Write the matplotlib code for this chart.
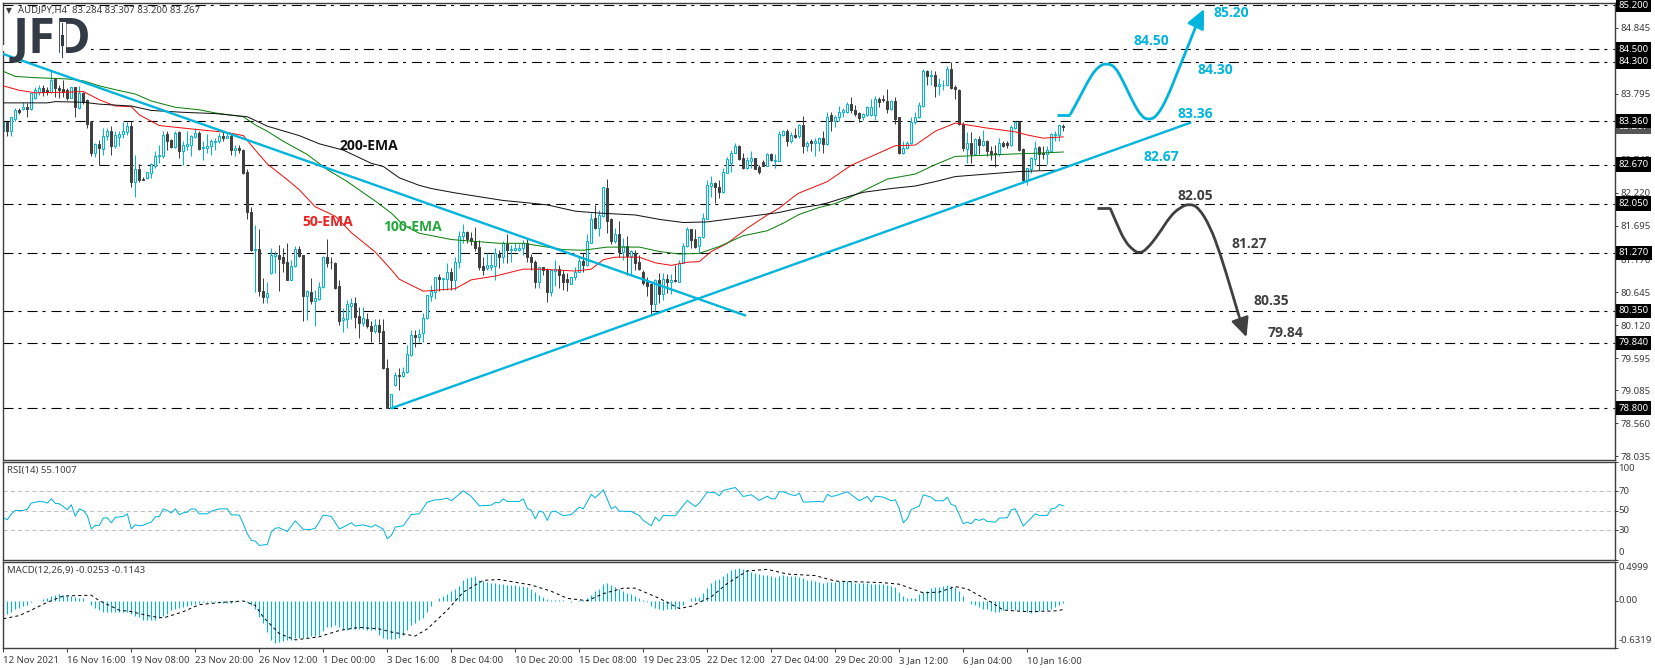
import matplotlib
matplotlib.use('Agg')
import matplotlib.pyplot as plt
from matplotlib.patches import Rectangle, PathPatch
from matplotlib.path import Path
import numpy as np

W, H = 1655, 668
plt.rcParams['font.family'] = ['Noto Sans', 'DejaVu Sans']
plt.rcParams['lines.scale_dashes'] = False

# ── candles, H4 bars ──
opens = [83.20,83.34,83.21,83.39,83.54,83.56,83.59,83.55,83.72,83.82,83.88,83.86,83.83,84.03,83.89,83.87,
 83.85,83.73,83.90,83.57,83.81,83.69,83.34,82.86,83.00,82.92,83.12,83.21,82.96,83.11,83.16,83.18,
 83.29,82.40,82.60,82.44,82.46,82.54,82.65,82.80,82.80,83.16,83.06,82.95,83.18,82.89,82.97,82.98,
 83.11,83.17,82.94,82.94,82.96,83.03,83.04,83.13,83.10,83.12,82.90,82.93,82.90,82.55,81.92,81.31,
 81.33,80.67,80.56,80.95,81.22,81.24,81.20,81.13,80.84,81.06,81.33,81.24,80.58,80.65,80.51,80.53,
 80.72,81.21,81.13,81.11,80.75,80.20,80.22,80.43,80.48,80.26,80.16,80.22,80.10,80.02,80.13,80.03,
 79.44,78.80,79.17,79.33,79.31,79.37,79.65,79.96,79.93,79.99,80.23,80.59,80.64,80.89,80.85,80.85,
 80.97,80.84,81.13,81.54,81.60,81.50,81.45,81.36,81.06,81.03,81.05,81.06,81.25,81.20,81.41,81.31,
 81.32,81.31,81.35,81.43,81.20,81.12,80.80,81.04,81.00,80.64,80.98,81.01,80.93,80.85,80.78,80.88,
 80.97,81.14,81.08,81.43,81.82,81.66,81.85,82.30,81.80,81.45,81.57,81.28,81.38,81.22,81.27,81.12,
 80.97,80.81,80.77,80.46,80.83,80.62,80.85,80.81,80.83,80.81,81.11,81.37,81.64,81.49,81.37,81.52,
 81.81,82.33,82.38,82.31,82.23,82.54,82.69,82.86,82.97,82.77,82.61,82.73,82.77,82.63,82.71,82.65,
 82.84,82.73,82.73,83.14,83.21,83.05,83.14,83.12,83.30,82.96,83.04,83.01,83.02,83.10,83.00,83.46,
 83.37,83.43,83.50,83.51,83.63,83.54,83.49,83.42,83.46,83.46,83.46,83.71,83.71,83.68,83.56,83.68,
 83.42,82.86,82.93,83.01,83.34,83.42,83.60,84.15,84.07,84.09,83.92,83.93,83.93,84.19,83.90,83.86,
 83.32,82.92,83.01,82.84,83.07,82.98,83.05,82.89,82.86,82.84,83.02,83.02,82.98,83.25,83.34,82.92,
 82.43,82.60,82.76,82.95,82.86,82.84,82.89,83.14,83.14,83.284]
highs = [83.42,83.34,83.42,83.57,83.57,83.66,83.65,83.80,83.90,83.94,83.94,83.90,84.15,84.03,83.93,84.01,
 83.88,83.91,83.90,83.92,83.83,83.71,83.36,83.02,83.06,83.25,83.25,83.28,83.20,83.20,83.35,83.36,
 83.36,82.83,82.68,82.48,82.56,82.69,82.88,82.98,83.21,83.21,83.07,83.21,83.21,83.04,83.20,83.14,
 83.25,83.21,83.04,83.16,83.07,83.09,83.17,83.20,83.18,83.15,82.98,82.98,82.91,82.60,82.00,81.71,
 81.65,80.87,80.80,81.34,81.29,81.40,81.34,81.42,81.16,81.38,81.38,81.24,80.68,80.87,80.68,80.80,
 81.22,81.49,81.21,81.13,80.83,80.39,80.52,80.55,80.56,80.41,80.41,80.31,80.18,80.22,80.22,80.22,
 79.58,79.02,79.37,79.44,79.46,79.81,80.05,80.05,80.06,80.31,80.60,80.76,80.89,80.94,80.87,81.11,
 81.03,81.21,81.61,81.73,81.61,81.60,81.68,81.48,81.21,81.27,81.25,81.34,81.32,81.45,81.57,81.40,
 81.42,81.41,81.48,81.50,81.25,81.16,81.04,81.05,81.03,81.00,81.16,81.08,81.00,80.95,80.89,81.05,
 81.21,81.26,81.56,81.90,82.03,81.95,82.31,82.44,81.82,81.66,81.77,81.50,81.54,81.32,81.32,81.24,
 80.99,80.89,80.79,80.85,80.95,80.95,80.94,80.94,81.08,81.16,81.42,81.68,81.65,81.65,81.54,81.90,
 82.43,82.49,82.40,82.43,82.61,82.79,82.90,83.01,82.98,82.86,82.79,82.88,82.77,82.67,82.74,82.85,
 82.85,82.84,83.21,83.22,83.23,83.19,83.25,83.32,83.44,83.04,83.07,83.09,83.11,83.20,83.50,83.50,
 83.46,83.60,83.57,83.66,83.75,83.62,83.51,83.49,83.60,83.71,83.76,83.75,83.77,83.87,83.69,83.74,
 83.42,83.04,83.04,83.42,83.51,83.66,84.19,84.17,84.17,84.16,84.04,84.01,84.23,84.30,83.94,83.87,
 83.34,83.18,83.18,83.09,83.12,83.22,83.06,82.96,82.98,83.09,83.05,83.05,83.30,83.36,83.36,82.93,
 82.61,82.79,83.04,82.97,82.97,82.96,83.17,83.21,83.30,83.307]
lows = [83.11,83.12,83.13,83.36,83.47,83.53,83.43,83.53,83.71,83.78,83.76,83.78,83.81,83.75,83.72,83.75,
 83.70,83.72,83.43,83.55,83.64,83.25,82.81,82.79,82.67,82.83,83.06,82.83,82.93,82.96,83.09,83.14,
 82.31,82.15,82.40,82.42,82.44,82.46,82.61,82.69,82.77,82.90,82.93,82.93,82.77,82.66,82.90,82.81,
 83.09,82.90,82.74,82.85,82.83,82.90,83.01,83.04,83.09,82.83,82.80,82.86,82.52,81.80,81.29,80.65,
 80.59,80.48,80.48,80.94,80.95,80.66,80.97,80.83,80.83,81.05,81.21,80.18,80.20,80.46,80.11,80.52,
 80.71,81.05,81.01,80.69,80.13,80.01,80.07,80.22,80.07,79.92,80.11,80.07,79.85,80.00,79.85,79.42,
 78.80,78.80,79.15,79.09,79.30,79.36,79.63,79.78,79.86,79.86,80.22,80.50,80.54,80.67,80.68,80.68,
 80.68,80.68,81.03,81.42,81.42,81.40,81.29,81.00,80.92,81.00,81.00,80.83,81.03,81.11,81.11,81.13,
 81.29,81.29,81.24,81.13,81.00,80.71,80.71,80.92,80.49,80.58,80.74,80.71,80.68,80.67,80.77,80.84,
 80.96,80.97,81.06,81.42,81.64,81.53,81.84,81.59,81.41,81.43,81.21,81.15,80.92,80.92,81.00,81.00,
 80.76,80.58,80.29,80.34,80.47,80.52,80.63,80.62,80.81,80.80,81.10,81.36,81.34,81.34,81.26,81.50,
 81.80,82.16,82.06,82.14,82.22,82.53,82.55,82.85,82.75,82.60,82.60,82.61,82.60,82.52,82.64,82.64,
 82.72,82.61,82.72,83.13,82.97,83.01,83.09,83.09,82.86,82.88,82.88,82.80,82.88,82.85,82.98,83.21,
 83.27,83.37,83.42,83.49,83.49,83.44,83.34,83.38,83.44,83.44,83.38,83.58,83.66,83.49,83.54,83.32,
 82.84,82.84,82.92,83.00,83.32,83.41,83.59,83.94,83.94,83.75,83.78,83.85,83.92,83.87,83.71,83.30,
 82.89,82.69,82.69,82.83,82.84,82.96,82.80,82.74,82.63,82.80,82.95,82.93,82.97,83.23,82.89,82.37,
 82.35,82.53,82.67,82.58,82.76,82.68,82.88,83.04,83.04,83.200]
closes = [83.34,83.21,83.42,83.54,83.50,83.59,83.56,83.80,83.86,83.88,83.83,83.83,84.02,83.88,83.85,83.83,
 83.73,83.90,83.58,83.80,83.67,83.32,82.86,83.00,82.93,83.13,83.21,82.96,83.14,83.16,83.20,83.28,
 82.40,82.60,82.43,82.43,82.55,82.68,82.81,82.83,83.14,83.05,82.95,83.17,82.89,82.98,83.00,83.12,
 83.17,82.92,82.95,82.96,83.04,83.05,83.13,83.10,83.13,82.90,82.93,82.90,82.54,81.91,81.32,81.33,
 80.66,80.56,80.63,81.24,81.25,81.17,81.11,80.84,81.06,81.33,81.22,80.58,80.66,80.50,80.55,80.72,
 81.21,81.11,81.12,80.71,80.18,80.23,80.45,80.47,80.25,80.16,80.23,80.10,80.02,80.13,80.01,79.44,
 78.80,79.02,79.33,79.31,79.38,79.66,79.97,79.94,79.98,80.23,80.60,80.66,80.89,80.86,80.87,80.97,
 80.84,81.13,81.54,81.60,81.49,81.45,81.34,81.05,81.00,81.07,81.07,81.26,81.21,81.42,81.31,81.33,
 81.34,81.35,81.43,81.20,81.12,80.80,81.04,80.99,80.64,80.99,81.01,80.92,80.81,80.80,80.88,80.97,
 81.14,81.08,81.45,81.80,81.66,81.87,82.31,81.78,81.45,81.57,81.28,81.38,81.22,81.29,81.10,81.01,
 80.79,80.74,80.46,80.83,80.62,80.85,80.81,80.83,80.82,81.11,81.38,81.64,81.48,81.36,81.52,81.82,
 82.35,82.38,82.31,82.23,82.55,82.76,82.86,82.97,82.76,82.61,82.75,82.77,82.60,82.56,82.65,82.84,
 82.74,82.75,83.16,83.20,83.05,83.14,83.11,83.30,82.96,83.02,83.01,83.04,83.09,83.00,83.43,83.37,
 83.43,83.50,83.54,83.63,83.53,83.48,83.41,83.47,83.59,83.59,83.71,83.67,83.69,83.56,83.68,83.40,
 82.86,82.94,83.01,83.35,83.43,83.61,84.15,84.08,84.09,83.92,83.95,83.94,84.19,83.88,83.87,83.32,
 82.93,83.01,82.84,83.07,82.98,83.05,82.88,82.84,82.84,83.02,82.97,82.98,83.26,83.34,82.90,82.43,
 82.61,82.77,82.94,82.84,82.84,82.90,83.15,83.16,83.30,83.267]

# ── moving averages (bar index, price) ──
ema50_x = [0,4,8,16,20,24,28,32,34,39,48,56,60,63,66,71,74,78,83,87,93,97,99,105,113,117,123,130,134,143,147,150,153,159,163,167,171,174,177,181,186,191,194,198,199,206,212,217,223,228,233,238,241,246,253,256,260,265]
ema50_y = [83.92,83.85,83.81,83.82,83.83,83.70,83.60,83.59,83.46,83.29,83.23,83.18,83.13,82.90,82.68,82.43,82.27,82.00,81.85,81.59,81.28,81.00,80.85,80.66,80.70,80.84,80.90,81.01,81.01,80.98,81.01,81.16,81.20,81.20,81.11,81.07,81.12,81.13,81.29,81.42,81.66,81.87,81.98,82.18,82.22,82.40,82.66,82.80,82.97,82.98,83.20,83.33,83.30,83.25,83.19,83.14,83.09,83.11]
ema100_x = [0,3,8,16,20,24,28,33,37,43,49,53,60,63,66,70,76,81,86,93,97,100,104,112,118,124,130,135,140,145,151,159,164,169,174,179,185,191,195,199,204,208,212,221,228,233,238,246,253,258,265]
ema100_y = [84.15,84.07,84.05,84.03,84.00,83.92,83.86,83.79,83.68,83.58,83.54,83.49,83.43,83.30,83.20,83.04,82.83,82.59,82.40,82.09,81.90,81.71,81.58,81.48,81.45,81.42,81.42,81.37,81.32,81.31,81.36,81.36,81.29,81.25,81.26,81.37,81.54,81.62,81.74,81.88,81.99,82.05,82.16,82.44,82.52,82.67,82.80,82.82,82.84,82.85,82.87]
ema200_x = [0,11,13,20,24,32,37,45,53,61,66,74,79,85,92,95,99,104,107,113,119,125,130,136,143,149,158,164,170,176,182,188,194,199,204,206,210,215,222,228,233,238,246,254,263]
ema200_y = [83.65,83.65,83.67,83.66,83.63,83.60,83.53,83.50,83.48,83.43,83.28,83.13,83.00,82.90,82.69,82.64,82.46,82.34,82.29,82.22,82.16,82.10,82.07,82.03,81.93,81.90,81.87,81.80,81.75,81.76,81.81,81.86,81.91,81.98,82.03,82.06,82.14,82.23,82.29,82.33,82.40,82.48,82.52,82.56,82.58]

# ── RSI(14) ──
rsi_x = [0,1,2,3,5,6,7,9,10,11,12,13,14,15,16,17,18,19,20,21,22,23,24,25,26,27,28,30,31,32,33,34,35,37,38,39,40,41,42,43,44,45,46,47,48,49,51,52,54,56,57,59,60,61,62,63,64,66,67,68,69,71,73,75,77,78,80,82,84,85,87,88,90,92,93,95,96,97,98,100,102,104,106,108,109,111,112,115,117,119,122,123,124,125,126,129,130,131,132,133,134,135,136,137,138,140,142,144,145,147,148,150,152,153,154,157,159,160,162,163,164,165,168,170,171,173,174,176,178,179,180,183,185,187,189,191,192,193,194,195,197,198,199,200,204,205,206,207,208,211,213,214,216,217,218,220,222,223,224,225,226,227,229,230,232,233,235,236,237,238,240,241,242,243,244,245,246,248,249,251,252,253,255,258,259,261,262,263,264,265]
rsi_y = [42.8,40.8,46.9,50.3,50.3,51.7,57.9,59.6,59.2,57.9,62.3,57.5,57.2,54.4,51,56.2,44.5,52,50.3,45.2,31.5,35,35,42.5,42.8,37.7,43.2,44.2,46.9,31.5,35.6,34.6,35.3,38.4,43.8,44.2,52,50.3,47.9,52,45.9,47.9,48.6,52,51.7,46.9,46.9,49.7,52,52,45.9,45.6,36.7,26.4,19.6,18.9,14.4,15.5,28.1,32.2,32.6,28.8,39.7,30.9,30.9,32.2,45.6,44.2,31.5,33.2,37.7,34.3,35.6,33.2,35.6,31.2,21.3,24.7,33.2,34.6,46.2,46.9,58.9,61.3,61.3,63,60.3,70.5,64.7,55.1,55.8,58.5,58.2,62.3,59.6,59.6,62.3,52.7,50.3,41.8,49.7,48.6,40.1,49,49.7,44.9,46.2,53.8,52,66.8,63.3,71.5,52,54.4,49.7,49.3,45.2,40.1,34.6,43.5,39.4,45.2,44.9,55.5,60.6,54.4,57.9,69.1,68.5,65.4,70.9,73.9,64.7,66.4,60.6,65,62.3,62.3,69.5,69.5,66.4,65.7,68.1,58.9,59.6,58.9,66.8,64.7,65.4,69.5,63.3,60.3,64.7,59.2,65,64,60.3,61.3,52,37.7,41.8,51.4,54.8,66.4,64,60.3,60.3,64,56.5,55.1,36.7,38.4,36.7,41.5,40.1,41.8,39.1,38.4,42.5,42.8,51,52,34.3,46.9,45.2,45.2,52,52.7,56.5,55.1]

# ── MACD(12,26,9) ──
macd_hist = [-.20,-.17,-.14,-.11,-.09,-.07,-.05,-.02,-.01,-.01,.02,.03,.06,.07,.08,.07,.06,.06,.05,.04,.03,-.01,-.05,-.09,-.12,-.14,-.14,-.14,-.15,-.14,-.14,-.14,
 -.17,-.19,-.21,-.24,-.25,-.25,-.24,-.22,-.19,-.17,-.12,-.11,-.09,-.08,-.07,-.06,-.04,-.03,-.02,-.02,-.02,-.02,-.02,-.03,-.03,-.03,-.02,-.01,-.01,-.02,-.05,-.10,
 -.21,-.29,-.40,-.50,-.54,-.53,-.52,-.50,-.50,-.48,-.48,-.47,-.46,-.45,-.45,-.44,-.39,-.34,-.33,-.31,-.34,-.36,-.37,-.36,-.36,-.36,-.36,-.37,-.37,-.38,-.44,-.48,
 -.49,-.49,-.49,-.47,-.44,-.38,-.31,-.28,-.25,-.22,-.14,-.07,-.01,.03,.06,.09,.12,.15,.19,.27,.29,.30,.31,.27,.25,.24,.23,.22,.21,.21,.20,.20,
 .20,.19,.19,.18,.15,.11,.07,.05,.02,.01,.01,.005,.005,0,-.02,-.01,.005,.005,.03,.07,.12,.15,.21,.22,.20,.18,.15,.13,.10,.08,.06,.03,.005,-.02,
 -.07,-.09,-.11,-.12,-.11,-.10,-.10,-.09,-.05,0,.03,.05,.05,.10,.16,.22,.26,.28,.31,.35,.39,.41,.42,.41,.39,.36,.35,.34,.33,.33,.32,.30,.32,.33,
 .32,.32,.31,.30,.29,.27,.26,.25,.24,.22,.24,.24,.24,.25,.25,.25,.25,.23,.22,.22,.22,.21,.21,.21,.21,.20,.19,.17,.11,.06,.04,.03,.04,.09,.11,.13,
 .16,.17,.18,.19,.20,.19,.17,.13,.06,0,-.04,-.06,-.08,-.10,-.11,-.13,-.14,-.14,-.12,-.12,-.11,-.12,-.12,-.13,-.15,-.16,-.15,-.13,-.12,-.12,-.10,-.08,-.06,-.0253]
signal_x = [0,4,7,11,15,22,24,29,32,37,40,45,49,55,60,63,65,69,73,79,84,89,94,97,103,106,111,115,120,124,132,137,141,146,150,155,158,164,169,172,177,181,186,191,196,203,208,220,224,230,234,238,241,247,250,256,263,265]
signal_y = [-.23,-.19,-.12,-.02,.06,.07,0,-.12,-.14,-.20,-.22,-.14,-.05,-.02,-.004,-.06,-.21,-.42,-.50,-.46,-.38,-.34,-.36,-.40,-.45,-.36,-.12,.11,.26,.27,.20,.12,.03,0,.09,.16,.16,.03,-.10,-.07,.05,.22,.38,.40,.34,.32,.25,.23,.21,.10,.11,.18,.15,-.02,-.12,-.14,-.13,-.1143]

# ── trend lines and forecast paths ──
down_x = [-0.2, 185.7]
down_y = [84.43, 80.27]
up_x = [97, 297]
up_y = [78.80, 83.34]
bull_flat_x = [263.4, 266.7]
bull_flat_y = [83.46, 83.46]
bull_x = [266.7,269.2,271.7,273.8,275.8,277.9,280,282.5,284.6,286.3,288.3,290.8,293.3,295.8,298.3]
bull_y = [83.46,83.75,84.06,84.23,84.28,84.23,83.99,83.65,83.43,83.38,83.43,83.70,84.10,84.49,84.89]
bull_tip = (300.2, 85.14)
bear_flat_x = [273.5, 276.7]
bear_flat_y = [81.98, 81.98]
bear_x = [276.7,278.3,280.4,282.5,284,285.8,288.8,291.7,294.2,296.5,298.8,301.7,304.2,306.7,308.8]
bear_y = [81.98,81.74,81.45,81.31,81.26,81.32,81.56,81.85,81.99,82.05,81.99,81.69,81.26,80.74,80.29]
bear_tip = (310.8, 79.93)

levels = [85.20, 84.50, 84.30, 83.36, 82.67, 82.05, 81.27, 80.35, 79.84, 78.80]
price_ticks = [84.845, 83.795, 82.745, 82.220, 81.695, 81.170, 80.645, 80.120, 79.595, 79.085, 78.560, 78.035]
last_price = 83.267
time_labels = ['12 Nov 2021','16 Nov 16:00','19 Nov 08:00','23 Nov 20:00','26 Nov 12:00','1 Dec 00:00','3 Dec 16:00',
               '8 Dec 04:00','10 Dec 20:00','15 Dec 08:00','19 Dec 23:05','22 Dec 12:00','27 Dec 04:00','29 Dec 20:00',
               '3 Jan 12:00','6 Jan 04:00','10 Jan 16:00']

CYAN = '#00B4DC'
DARK = '#404040'
TXT = '#3c3c3c'
PX = 0.72   # one pixel in points at dpi 100


def make_axes(fig, top, bottom):
    left, right = 2.5, 1614.5
    ax = fig.add_axes([left / W, 1 - bottom / H, (right - left) / W, (bottom - top) / H])
    ax.set_xlim(-0.2, 402.8)
    for s in ax.spines.values():
        s.set_color(DARK)
        s.set_linewidth(1.4 * PX)
    ax.set_xticks([])
    ax.yaxis.tick_right()
    ax.tick_params(axis='y', length=2.5, width=PX, color=DARK, labelsize=6.9, labelcolor=TXT, pad=2)
    return ax


def px_text(fig, x, y, s, **kw):
    kw.setdefault('va', 'center')
    return fig.text(x / W, 1 - y / H, s, **kw)


def smooth_path(ax, xs, ys, color, end):
    # quadratic segments through the midpoints, so the hand-drawn forecast stays round
    pts = list(zip(xs, ys))
    verts = [pts[0]]
    codes = [Path.MOVETO]
    for a, b in zip(pts[:-1], pts[1:-1]):
        pass
    for k in range(1, len(pts) - 1):
        mid = ((pts[k][0] + pts[k + 1][0]) / 2, (pts[k][1] + pts[k + 1][1]) / 2)
        verts += [pts[k], mid]
        codes += [Path.CURVE3, Path.CURVE3]
    verts.append(pts[-1])
    codes.append(Path.LINETO)
    ax.add_patch(PathPatch(Path(verts, codes), fc='none', ec=color, lw=2.0, capstyle='butt', zorder=5))
    ax.annotate('', xy=end, xytext=pts[-1], zorder=5,
                arrowprops=dict(arrowstyle='-|>,head_length=0.9,head_width=0.42', color=color, lw=1.8,
                                shrinkA=0, shrinkB=0, mutation_scale=13))


fig = plt.figure(figsize=(W / 100, H / 100), dpi=100, facecolor='white')
ax = make_axes(fig, 2.5, 459.5)
ax.set_ylim(77.987, 85.244)
ax_rsi = make_axes(fig, 461.5, 559.5)
ax_rsi.set_ylim(0, 100.6)
ax_macd = make_axes(fig, 561.5, 647.5)
ax_macd.set_ylim(-0.597, 0.4999)

# main panel
ax.hlines(levels, -0.2, 402.8, colors='black', lw=1.1 * PX, linestyles=[(0, (7.2, 3.6, 2.2, 4.3))], zorder=1)

idx = np.arange(len(closes))
o, h, l, c = map(np.array, (opens, highs, lows, closes))
up = c >= o
ax.vlines(idx[up], l[up], h[up], colors=CYAN, lw=PX, zorder=2)
ax.vlines(idx[~up], l[~up], h[~up], colors=DARK, lw=PX, zorder=2)
ax.bar(idx[up], (c - o)[up], bottom=o[up], width=0.5, facecolor='white', edgecolor=CYAN, lw=PX, zorder=2.5)
ax.bar(idx[~up], (c - o)[~up], bottom=o[~up], width=0.5, facecolor=DARK, edgecolor=DARK, lw=PX, zorder=2.5)

ax.plot(ema50_x, ema50_y, color='#ee1010', lw=PX, zorder=3)
ax.plot(ema100_x, ema100_y, color='#0a7d0a', lw=PX, zorder=3)
ax.plot(ema200_x, ema200_y, color='#111111', lw=PX, zorder=3)

ax.plot(down_x, down_y, color=CYAN, lw=1.7, zorder=4, solid_capstyle='butt')
ax.plot(up_x, up_y, color=CYAN, lw=1.7, zorder=4, solid_capstyle='butt')

ax.plot(bull_flat_x, bull_flat_y, color=CYAN, lw=2.0, zorder=5, solid_capstyle='butt')
smooth_path(ax, bull_x, bull_y, CYAN, bull_tip)
ax.plot(bear_flat_x, bear_flat_y, color=DARK, lw=2.0, zorder=5, solid_capstyle='butt')
smooth_path(ax, bear_x, bear_y, DARK, bear_tip)

ax.set_yticks(price_ticks)
ax.set_yticklabels([f'{t:.3f}' for t in price_ticks])

# boxed prices on the right axis
trans = ax.get_yaxis_transform()
ax.text(1.0026, last_price, f'{last_price:.3f}', transform=trans, va='center', ha='left', fontsize=6.9, color='white',
        bbox=dict(boxstyle='square,pad=0.28', fc='#555555', ec='none'), clip_on=False, zorder=6)
for lv in levels:
    ax.text(1.0026, lv, f'{lv:.3f}', transform=trans, va='center', ha='left', fontsize=6.9, color='white',
            bbox=dict(boxstyle='square,pad=0.28', fc='black', ec='none'), clip_on=False, zorder=7)

# RSI
ax_rsi.hlines([70, 50, 30], -0.2, 402.8, colors='#c0c0c0', lw=PX, linestyles=[(0, (3, 2.2))])
ax_rsi.plot(rsi_x, rsi_y, color=CYAN, lw=PX)
ax_rsi.set_yticks([0, 30, 50, 70, 100])
ax_rsi.set_yticklabels([])

# MACD
ax_macd.vlines(idx, 0, macd_hist, colors=CYAN, lw=1.1 * PX)
ax_macd.plot(signal_x, signal_y, color='black', lw=PX, linestyle=(0, (2.2, 2.2)))
ax_macd.set_yticks([0, 0.4999, -0.597])
ax_macd.set_yticklabels([])
ax_macd.set_xticks(np.arange(len(time_labels)) * 16)
ax_macd.set_xticklabels(time_labels, ha='left')
ax_macd.tick_params(axis='x', length=3, width=PX, color=DARK, labelsize=6.9, labelcolor=TXT, pad=3)

# axis labels that sit away from their ticks
for s, y in [('100', 468.3), ('70', 491.3), ('50', 510.3), ('30', 530.3), ('0', 552.7)]:
    px_text(fig, 1618.5, y, s, fontsize=6.9, color=TXT)
for s, y in [('0.4999', 568), ('0.00', 600.3), ('-0.6319', 640.7)]:
    px_text(fig, 1618.5, y, s, fontsize=6.9, color=TXT)

# headers
px_text(fig, 18, 10.5, 'AUDJPY,H4  83.284 83.307 83.200 83.267', fontsize=6.9, color=TXT)
px_text(fig, 9, 10.5, '▼', fontsize=5.5, color=TXT, ha='center', family=['DejaVu Sans'])
px_text(fig, 7, 470.5, 'RSI(14) 55.1007', fontsize=6.9, color=TXT)
px_text(fig, 7, 571, 'MACD(12,26,9) -0.0253 -0.1143', fontsize=6.9, color=TXT)

# logo
fig.add_artist(Rectangle((3 / W, 1 - 51 / H), 88 / W, 6 / H, transform=fig.transFigure, fc='white', ec='none', zorder=2))
px_text(fig, 13, 40, 'JFD', fontsize=35, color='#333B47', weight='bold', family=['Open Sans', 'Noto Sans'], zorder=3)
fig.add_artist(Rectangle((60 / W, 1 - 59 / H), 5.5 / W, 37 / H, transform=fig.transFigure, fc='white', ec='none', zorder=4))
fig.add_artist(Rectangle((62.2 / W, 1 - 58 / H), 1.2 / W, 35 / H, transform=fig.transFigure, fc='#333B47', ec='none', zorder=5))
fig.add_artist(Rectangle((61 / W, 1 - 46 / H), 3.4 / W, 11 / H, transform=fig.transFigure, fc='#333B47', ec='none', zorder=5))

# annotations
note = dict(fontsize=10, weight='bold', family=['Open Sans', 'Noto Sans'], zorder=8)
for s, x, y in [('84.50', 1134, 41), ('85.20', 1214, 13), ('84.30', 1197, 70), ('83.36', 1177, 114), ('82.67', 1143, 157)]:
    px_text(fig, x, y, s, color=CYAN, **note)
for s, x, y in [('82.05', 1177, 196), ('81.27', 1231, 244), ('80.35', 1254, 301), ('79.84', 1268, 333)]:
    px_text(fig, x, y, s, color=DARK, **note)
px_text(fig, 340, 146, '200-EMA', color='#111111', **note)
px_text(fig, 302, 222, '50-EMA', color='#ee2020', **note)
px_text(fig, 383, 227, '100-EMA', color='#22a83c', **note)

fig.savefig('out.png', dpi=100)
